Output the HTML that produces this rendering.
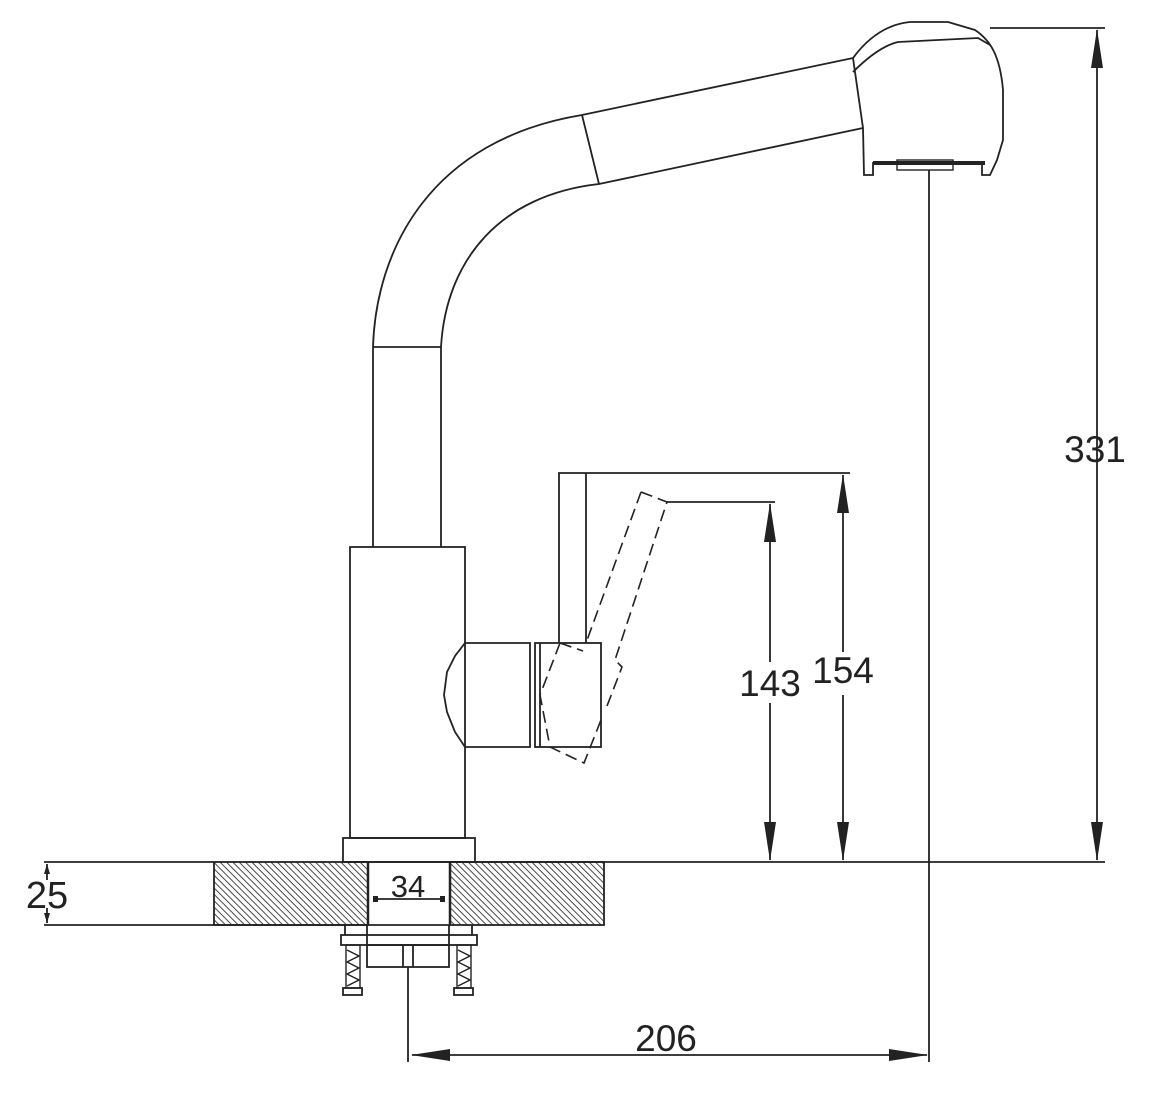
<!DOCTYPE html>
<html><head><meta charset="utf-8"><style>
html,body{margin:0;padding:0;background:#fff;}
svg{display:block;}
text{font-family:"Liberation Sans",sans-serif;fill:#222;}
</style></head><body>
<svg width="1157" height="1109" viewBox="0 0 1157 1109" xmlns="http://www.w3.org/2000/svg">
<defs>
<pattern id="h" patternUnits="userSpaceOnUse" width="4.5" height="4.5" patternTransform="rotate(-45)">
<rect width="4.5" height="4.5" fill="#fff"/>
<line x1="0" y1="0" x2="0" y2="4.5" stroke="#333" stroke-width="1.8"/>
</pattern>
</defs>
<g fill="none" stroke="#222" stroke-width="1.8">
<rect x="214" y="862" width="154" height="63" fill="url(#h)"/>
<rect x="450" y="862" width="154" height="63" fill="url(#h)"/>
<line x1="368" y1="862" x2="368" y2="925" stroke-width="2.5"/>
<line x1="450" y1="862" x2="450" y2="925" stroke-width="2.5"/>
<line x1="345" y1="862" x2="1105" y2="862"/>
<line x1="44" y1="862" x2="214" y2="862"/>
<line x1="44" y1="925" x2="450" y2="925"/>
<line x1="47" y1="864" x2="47" y2="880"/>
<line x1="47" y1="908" x2="47" y2="923"/>
<rect x="343" y="838" width="132" height="24"/>
<rect x="350" y="547" width="115" height="291"/>
<line x1="373" y1="347" x2="373" y2="547"/>
<line x1="441" y1="347" x2="441" y2="547"/>
<line x1="373" y1="347" x2="441" y2="347"/>
<path d="M373,347 C376,250 430,140 582,115 L853,58"/>
<path d="M441,347 C446,260 500,195 599,184 L863,128"/>
<line x1="582" y1="115" x2="599" y2="184"/>
<path d="M853,58 C870,35 890,24 910,22 L948,22 L975,30 C990,40 1000,55 1003,90 L1003,140 L997,160 L990,175 L982,175 L982,163 L873,163 L873,175 L864,175 L863,128 L853,58 Z"/>
<path d="M853,72 C870,55 885,45 898,42 L978,38 L990,45"/>
<line x1="873" y1="163" x2="985" y2="163" stroke-width="4"/>
<rect x="897" y="160" width="56" height="10" stroke-width="1.4"/>
<line x1="990" y1="28" x2="1105" y2="28"/>
<path d="M465,643 L530,643 L530,747 L465,747 L455,732 L447,712 L444,695 L447,672 L455,656 Z"/>
<rect x="535" y="643" width="66" height="104"/>
<line x1="540" y1="643" x2="540" y2="747"/>
<path d="M559,643 L559,473 L850,473"/>
<line x1="586" y1="473" x2="586" y2="643"/>
<g stroke-dasharray="12,6" stroke-width="1.6">
<path d="M641,492 L667,502 L615,660 L622,667 L607,706"/>
<path d="M641,492 L586,643"/>
<path d="M560,643 L583,651"/>
<path d="M560,643 L540,695 L550,747 L584,763 L601,720"/>
</g>
<line x1="667" y1="502" x2="775" y2="502"/>
<line x1="345" y1="925" x2="345" y2="935"/>
<line x1="472" y1="925" x2="472" y2="935"/>
<rect x="341" y="935" width="136" height="10"/>
<rect x="367" y="945" width="82" height="22"/>
<line x1="367" y1="925" x2="367" y2="945"/>
<line x1="449" y1="925" x2="449" y2="945"/>
<line x1="403" y1="945" x2="403" y2="967"/>
<line x1="413" y1="945" x2="413" y2="967"/>
<rect x="346" y="945" width="14" height="43" stroke-width="1.4"/>
<rect x="457" y="945" width="14" height="43" stroke-width="1.4"/>
<path d="M347,950 L359,956 L347,962 L359,968 L347,974 L359,980 L347,986" stroke-width="1.4"/>
<path d="M458,950 L470,956 L458,962 L470,968 L458,974 L470,980 L458,986" stroke-width="1.4"/>
<rect x="343" y="988" width="19" height="7"/>
<rect x="454" y="988" width="19" height="7"/>
<line x1="375" y1="899" x2="443" y2="899"/>
<line x1="929" y1="170" x2="929" y2="1062"/>
<line x1="408" y1="967" x2="408" y2="1062"/>
<line x1="412" y1="1055" x2="927" y2="1055"/>
<line x1="1097" y1="30" x2="1097" y2="860"/>
<line x1="843" y1="475" x2="843" y2="652"/>
<line x1="843" y1="695" x2="843" y2="860"/>
<line x1="770" y1="504" x2="770" y2="662"/>
<line x1="770" y1="703" x2="770" y2="860"/>
</g>
<g fill="#222">
<polygon points="1097,29 1091,68 1103,68"/>
<polygon points="1097,861 1091,822 1103,822"/>
<polygon points="843,474 837,513 849,513"/>
<polygon points="843,861 837,822 849,822"/>
<polygon points="770,503 764,542 776,542"/>
<polygon points="770,861 764,822 776,822"/>
<polygon points="411,1055 450,1049 450,1061"/>
<polygon points="928,1055 889,1049 889,1061"/>
<polygon points="47,864 44,874 50,874"/>
<polygon points="47,923 44,913 50,913"/>
<rect x="373" y="896" width="5" height="6"/>
<rect x="440" y="896" width="5" height="6"/>
</g>
<g font-size="37">
<text x="1095" y="462" text-anchor="middle">331</text>
<text x="843" y="683" text-anchor="middle">154</text>
<text x="770" y="696" text-anchor="middle">143</text>
<text x="666" y="1051" text-anchor="middle">206</text>
<text x="47" y="908" text-anchor="middle" font-size="38">25</text>
<text x="408" y="897" text-anchor="middle" font-size="31">34</text>
</g>
</svg>
</body></html>
